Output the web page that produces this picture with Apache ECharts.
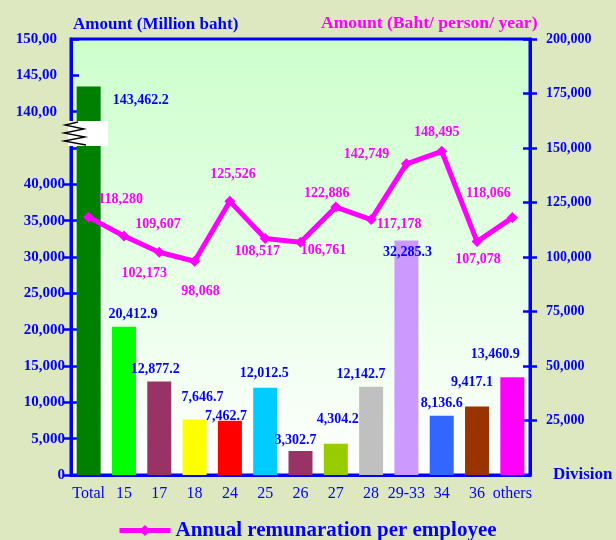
<!DOCTYPE html>
<html>
<head>
<meta charset="utf-8">
<script src="https://cdn.jsdelivr.net/npm/echarts@6/dist/echarts.min.js"></script>
<style>html,body{margin:0;padding:0;background:#DEE8C0;}#c{width:616px;height:540px;}</style>
</head>
<body>
<div id="c"></div>
<script>
// ---- data ----
const categories = ['Total','15','17','18','24','25','26','27','28','29-33','34','36','others'];
const amountMillionBaht = [143462.2, 20412.9, 12877.2, 7646.7, 7462.7, 12012.5, 3302.7, 4304.2, 12142.7, 32285.3, 8136.6, 9417.1, 13460.9];
const remunerationPerEmployee = [118280, 109607, 102173, 98068, 125526, 108517, 106761, 122886, 117178, 142749, 148495, 107078, 118066];
const leftLowerTicks = [0, 5000, 10000, 15000, 20000, 25000, 30000, 35000, 40000];
const leftUpperTickLabels = ['140,00', '145,00', '150,00'];
const rightTicks = [25000, 50000, 75000, 100000, 125000, 150000, 175000, 200000];
const seriesName = 'Annual remunaration per employee';

// ---- styles ----
const barColors = ['#008000','#00FF00','#993366','#FFFF00','#FF0000','#00CCFF','#993366','#99CC00','#C0C0C0','#CC99FF','#3366FF','#993300','#FF00FF'];
const barLabelOffsets = [[52,26],[9,0],[-4,0],[8,-10],[-4,8],[-1,-2],[-5,1],[2,-12],[-10,0],[1,24],[0,0],[-5,-12],[-17,-11]];
const lineLabelOffsets = [[32,-18],[34,-12],[-15,21],[6,30],[3,-27],[-8,13],[23,8],[-9,-14],[28,5],[-40,-9],[-5,-19],[1,18],[-24,-24]];
const FONT = '"Liberation Serif", "Times New Roman", serif';
const BLUE = '#0000FF', MAG = '#FF00FF';

// broken left axis: values above the break are shifted down by the gap
const BREAK_LOW = 45000, BREAK_GAP = 90000;
const toAxis = v => v > BREAK_LOW ? v - BREAK_GAP : v;
const fmt1 = v => v.toLocaleString('en-US', {minimumFractionDigits:1, maximumFractionDigits:1});
const fmt0 = v => v.toLocaleString('en-US');

const chart = echarts.init(document.getElementById('c'), null, {renderer:'canvas'});

const barData = amountMillionBaht.map((v,i) => ({
  value: toAxis(v),
  itemStyle: {color: barColors[i]},
  label: {offset: barLabelOffsets[i]}
}));
const lineData = remunerationPerEmployee.map((v,i) => ({
  value: v,
  label: {offset: lineLabelOffsets[i]}
}));

const upperVals = [50000, 55000, 60000];

chart.setOption({
  backgroundColor: '#DEE8C0',
  animation: false,
  title: [
    {text: 'Amount (Million baht)', left: 68, top: 11, textStyle: {fontFamily: FONT, fontSize: 17, fontWeight: 'bold', color: BLUE}},
    {text: 'Amount (Baht/ person/ year)', left: 316, top: 9, textStyle: {fontFamily: FONT, fontSize: 17.6, fontWeight: 'bold', color: MAG}},
    {text: 'Division', left: 548, top: 461, textStyle: {fontFamily: FONT, fontSize: 17, fontWeight: 'bold', color: BLUE}}
  ],
  legend: {
    data: [seriesName], left: 112, top: 515,
    itemWidth: 51, itemHeight: 14, itemGap: 5,
    lineStyle: {width: 5},
    textStyle: {fontFamily: FONT, fontSize: 21, fontWeight: 'bold', color: BLUE}
  },
  grid: {
    left: 71, right: 86, top: 39, bottom: 65,
    show: true, borderColor: BLUE, borderWidth: 3,
    backgroundColor: new echarts.graphic.LinearGradient(0,0,0,1,[{offset:0,color:'#CCFFCC'},{offset:1,color:'#FFFFFF'}])
  },
  xAxis: [
    {type:'category', data: categories, position:'bottom', boundaryGap: true,
     axisLine:{lineStyle:{color:BLUE,width:3}},
     axisTick:{inside:false,length:12,lineStyle:{color:BLUE,width:2.5}},
     axisLabel:{interval:0, margin:11, fontFamily:FONT, fontSize:16, color:BLUE}},
    {type:'category', data: categories, position:'bottom', boundaryGap: true,
     axisLine:{show:false},
     axisTick:{inside:true,length:10,lineStyle:{color:BLUE,width:2.5}},
     axisLabel:{show:false}}
  ],
  yAxis: [
    {type:'value', position:'left', min:0, max:60000, interval:5000,
     axisLine:{show:true,lineStyle:{color:BLUE,width:3}},
     axisTick:{show:true,inside:false,length:7,lineStyle:{color:BLUE,width:2.5}, customValues: leftLowerTicks},
     splitLine:{show:false},
     axisLabel:{margin:6, fontFamily:FONT, fontSize:15, fontWeight:'bold', color:BLUE,
       formatter: v => {
         const ui = upperVals.indexOf(v);
         if (ui >= 0) return '{u|' + leftUpperTickLabels[ui] + '}';
         if (v > 40000) return '';
         return fmt0(v);
       },
       rich:{u:{padding:[0,8,0,0], fontFamily:FONT, fontSize:15, fontWeight:'bold', color:BLUE}}}},
    {type:'value', position:'left', min:0, max:60000, interval:5000,
     axisLine:{show:false}, axisLabel:{show:false}, splitLine:{show:false},
     axisTick:{show:true,inside:true,length:8,lineStyle:{color:BLUE,width:2.5}}},
    {type:'value', position:'right', min:0, max:200000, interval:25000,
     axisLine:{show:true,lineStyle:{color:BLUE,width:3}},
     axisTick:{show:true,inside:false,length:7,lineStyle:{color:BLUE,width:2.5}, customValues: rightTicks},
     splitLine:{show:false},
     axisLabel:{margin:16, fontFamily:FONT, fontSize:14, fontWeight:'bold', color:BLUE,
       formatter: v => v === 0 ? '' : fmt0(v)}},
    {type:'value', position:'right', min:0, max:200000, interval:25000,
     axisLine:{show:false}, axisLabel:{show:false}, splitLine:{show:false},
     axisTick:{show:true,inside:true,length:7,lineStyle:{color:BLUE,width:2.5}, customValues: rightTicks}}
  ],
  series: [
    {type:'bar', name:'Amount', xAxisIndex:0, yAxisIndex:0, barWidth:24, data: barData,
     label:{show:true, position:'top', distance:5, fontFamily:FONT, fontSize:14, fontWeight:'bold', color:BLUE,
       formatter: p => fmt1(amountMillionBaht[p.dataIndex])}},
    {type:'line', name: seriesName, xAxisIndex:0, yAxisIndex:2, data: lineData,
     symbol:'diamond', symbolSize:11, z:5,
     lineStyle:{color:MAG,width:5}, itemStyle:{color:MAG},
     label:{show:true, position:'inside', fontFamily:FONT, fontSize:14, fontWeight:'bold', color:MAG,
       formatter: p => fmt0(p.value)}}
  ],
  graphic: [
    {type:'rect', shape:{x:68,y:121,width:40,height:25}, style:{fill:'#FFFFFF'}, z:100},
    {type:'polyline', shape:{points:[[78,122],[65,125],[84,129],[64,133],[85,137],[64,141],[86,145]]},
     style:{stroke:'#000000', lineWidth:1.3, fill:null}, z:101}
  ]
});
</script>
</body>
</html>
